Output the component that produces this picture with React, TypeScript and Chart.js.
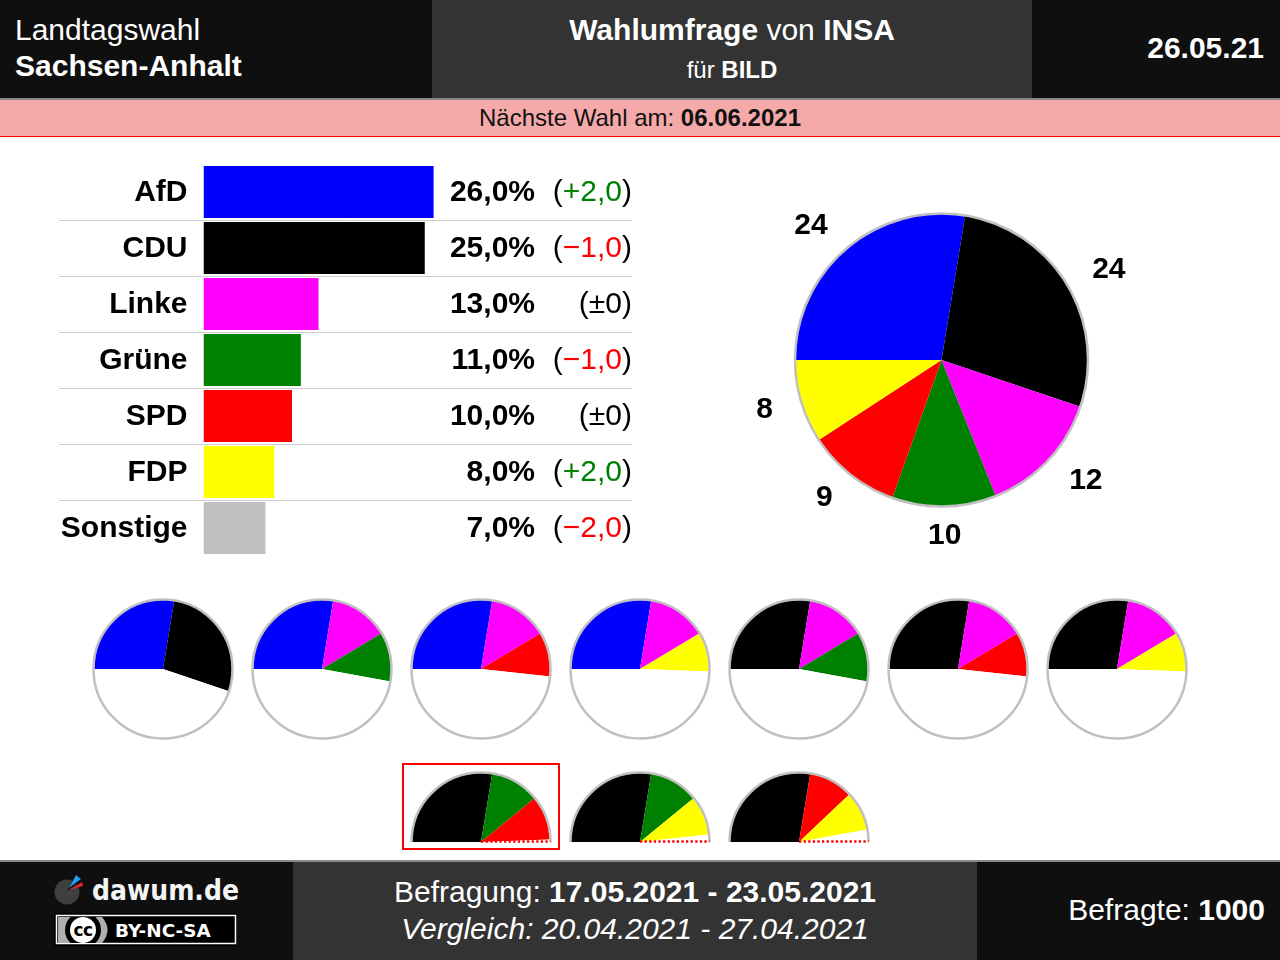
import React, { useEffect, useRef } from "react";
import { Chart, registerables } from "chart.js";

Chart.register(...registerables);

const FONT = '"Liberation Sans", Arial, sans-serif';

const parties = ["AfD", "CDU", "Linke", "Grüne", "SPD", "FDP", "Sonstige"];
const percents = [26, 25, 13, 11, 10, 8, 7];
const changes = [2, -1, 0, -1, 0, 2, -2];
const partyColors = ["#0000ff", "#000000", "#ff00ff", "#008000", "#ff0000", "#ffff00", "#c0c0c0"];

const seatParties = ["AfD", "CDU", "Linke", "Grüne", "SPD", "FDP"];
const seats = [24, 24, 12, 10, 9, 8];

const fullCoalitions = [
  ["AfD", "CDU"],
  ["AfD", "Linke", "Grüne"],
  ["AfD", "Linke", "SPD"],
  ["AfD", "Linke", "FDP"],
  ["CDU", "Linke", "Grüne"],
  ["CDU", "Linke", "SPD"],
  ["CDU", "Linke", "FDP"],
];
const halfCoalitions = [
  ["CDU", "Grüne", "SPD"],
  ["CDU", "Grüne", "FDP"],
  ["CDU", "SPD", "FDP"],
];

const totalSeats = seats.reduce((a, b) => a + b, 0);
const seatOf = (p: string) => seats[seatParties.indexOf(p)];
const colorOf = (p: string) => partyColors[parties.indexOf(p)];

function fmtChange(c: number) {
  if (c === 0) return "±0";
  return (c > 0 ? "+" : "−") + Math.abs(c).toFixed(1).replace(".", ",");
}

const outlinePlugin = {
  id: "outline",
  afterDraw(chart: any, _a: any, opts: any) {
    const arcs = chart.getDatasetMeta(0).data;
    const first = arcs[0];
    const last = arcs[arcs.length - 1];
    const ctx = chart.ctx;
    ctx.save();
    ctx.strokeStyle = "#c0c0c0";
    ctx.lineWidth = opts.width ?? 2;
    ctx.beginPath();
    ctx.arc(first.x, first.y, first.outerRadius, first.startAngle, last.endAngle);
    ctx.stroke();
    if (opts.dotted) {
      ctx.strokeStyle = "#ff0000";
      ctx.lineWidth = 2.5;
      ctx.setLineDash([2.3, 2.3]);
      ctx.beginPath();
      ctx.moveTo(first.x, first.y - 0.5);
      ctx.lineTo(first.x + first.outerRadius, first.y - 0.5);
      ctx.stroke();
    }
    ctx.restore();
  },
};

const seatLabelPlugin = {
  id: "seatLabels",
  afterDraw(chart: any) {
    const arcs = chart.getDatasetMeta(0).data;
    const ctx = chart.ctx;
    const values = chart.data.datasets[0].data;
    ctx.save();
    ctx.fillStyle = "#000";
    ctx.font = `bold 30px ${FONT}`;
    ctx.textBaseline = "middle";
    arcs.forEach((a: any, i: number) => {
      const mid = (a.startAngle + a.endAngle) / 2;
      const dist = a.outerRadius * 1.2;
      const dx = Math.cos(mid);
      ctx.textAlign = Math.abs(dx) < 0.1 ? "center" : dx > 0 ? "left" : "right";
      ctx.fillText(String(values[i]), a.x + dist * dx, a.y + dist * Math.sin(mid));
    });
    ctx.restore();
  },
};

const rowPlugin = {
  id: "rows",
  beforeDatasetsDraw(chart: any) {
    const y = chart.scales.y;
    const ctx = chart.ctx;
    ctx.save();
    ctx.strokeStyle = "#cccccc";
    ctx.lineWidth = 1;
    for (let i = 0; i < parties.length - 1; i++) {
      const py = Math.round((y.getPixelForValue(i) + y.getPixelForValue(i + 1)) / 2) + 0.5;
      ctx.beginPath();
      ctx.moveTo(0, py);
      ctx.lineTo(chart.width, py);
      ctx.stroke();
    }
    ctx.restore();
  },
  afterDatasetsDraw(chart: any) {
    const y = chart.scales.y;
    const ctx = chart.ctx;
    const right = chart.width;
    const valueRight = right - 97;
    ctx.save();
    ctx.textBaseline = "middle";
    parties.forEach((_p, i) => {
      const py = y.getPixelForValue(i) + 1;
      ctx.textAlign = "right";
      ctx.fillStyle = "#000";
      ctx.font = `bold 30px ${FONT}`;
      ctx.fillText(percents[i].toFixed(1).replace(".", ",") + "%", valueRight, py);
      ctx.font = `30px ${FONT}`;
      const c = changes[i];
      const col = c > 0 ? "#008000" : c < 0 ? "#ff0000" : "#000";
      const txt = fmtChange(c);
      let x = right;
      ctx.fillStyle = "#000";
      ctx.fillText(")", x, py);
      x -= ctx.measureText(")").width;
      ctx.fillStyle = col;
      ctx.fillText(txt, x, py);
      x -= ctx.measureText(txt).width;
      ctx.fillStyle = "#000";
      ctx.fillText("(", x, py);
    });
    ctx.restore();
  },
};

function Canvas({ config, left, top, width, height }: any) {
  const ref = useRef<HTMLCanvasElement>(null);
  useEffect(() => {
    const chart = new Chart(ref.current as HTMLCanvasElement, config());
    return () => chart.destroy();
  }, []);
  return (
    <div style={{ position: "absolute", left, top, width, height }}>
      <canvas ref={ref} width={width} height={height} style={{ display: "block", width, height }} />
    </div>
  );
}

const baseOpts = {
  animation: false as const,
  responsive: false,
  plugins: { legend: { display: false }, tooltip: { enabled: false }, title: { display: false } },
};

const barConfig = () => ({
  type: "bar" as const,
  data: {
    labels: parties,
    datasets: [
      {
        data: percents,
        backgroundColor: partyColors,
        borderWidth: 0,
        barPercentage: 52 / 56,
        categoryPercentage: 1,
      },
    ],
  },
  options: {
    ...baseOpts,
    indexAxis: "y" as const,
    layout: { padding: 0, autoPadding: false },
    scales: {
      x: { display: false, min: 0, max: 428.5 / 8.85 },
      y: {
        grid: { display: false, drawTicks: false },
        border: { display: false },
        afterFit: (s: any) => {
          s.width = 144.5;
          s.paddingTop = 0;
          s.paddingBottom = 0;
          if (s._margins) {
            s._margins.top = 0;
            s._margins.bottom = 0;
          }
        },
        ticks: {
          color: "#000",
          padding: 16,
          labelOffset: 1,
          autoSkip: false,
          font: { family: FONT, size: 30, weight: "bold" as const },
        },
      },
    },
  },
  plugins: [rowPlugin],
});

const pieConfig = () => ({
  type: "pie" as const,
  data: {
    labels: seatParties,
    datasets: [{ data: seats, backgroundColor: seatParties.map(colorOf), borderWidth: 0 }],
  },
  options: {
    ...baseOpts,
    rotation: -90,
    layout: { padding: { left: 57, right: 56, top: 53.5, bottom: 53.5 } },
    plugins: { ...baseOpts.plugins, outline: { width: 2.5 } },
  },
  plugins: [outlinePlugin, seatLabelPlugin],
});

const coalitionConfig = (members: string[], half: boolean) => () => {
  const used = members.reduce((s, p) => s + seatOf(p), 0);
  const total = half ? totalSeats / 2 : totalSeats;
  return {
    type: "pie" as const,
    data: {
      labels: [...members, "Rest"],
      datasets: [
        {
          data: [...members.map(seatOf), total - used],
          backgroundColor: [...members.map(colorOf), "#ffffff"],
          borderWidth: 0,
        },
      ],
    },
    options: {
      ...baseOpts,
      rotation: -90,
      circumference: half ? 180 : 360,
      layout: { padding: half ? { left: 2.5, right: 2.5, top: 2.5, bottom: 1 } : 2.5 },
      plugins: { ...baseOpts.plugins, outline: { width: 2.5, dotted: half } },
    },
    plugins: [outlinePlugin],
  };
};

function Txt({ x, y, w, align = "left", size = 30, color = "#fff", children }: any) {
  return (
    <div
      style={{
        position: "absolute",
        left: x,
        top: y,
        width: w,
        height: 40,
        lineHeight: "40px",
        textAlign: align,
        fontSize: size,
        color,
        whiteSpace: "nowrap",
        fontFamily: FONT,
      }}
    >
      {children}
    </div>
  );
}

function Box({ x, y, w, h, bg }: any) {
  return <div style={{ position: "absolute", left: x, top: y, width: w, height: h, background: bg }} />;
}

function Logo() {
  return (
    <svg style={{ position: "absolute", left: 50, top: 870 }} width={195} height={78} viewBox="50 870 195 78">
      <circle cx={67} cy={892} r={12.5} fill="#3f3f3f" />
      <path d="M67 891 L76 875 L83 880 Z" fill="#0f0f0f" />
      <path d="M69 888 L76 875 L81 879 Z" fill="#1e9fe8" />
      <path d="M69 890 L82 882 L83 886 Z" fill="#e8202a" />
      <text x={92} y={900} fontFamily='"DejaVu Sans"' fontWeight="bold" fontSize={27.5} textLength={147} lengthAdjust="spacingAndGlyphs" fill="#f4f4f4">
        dawum.de
      </text>
      <rect x={54} y={913} width={183} height={33} fill="#000" />
      <rect x={56.5} y={915.5} width={179} height={28} fill="#000" stroke="#fff" strokeWidth={1.5} />
      <path d="M58 917 H102 Q113 930 102 943 H58 Z" fill="#aab2ab" />
      <clipPath id="badge"><rect x={58} y={917} width={176} height={26} /></clipPath>
      <circle cx={83} cy={930} r={18} fill="#000" clipPath="url(#badge)" />
      <circle cx={83} cy={930} r={13} fill="#fff" />
      <text x={83} y={936} textAnchor="middle" fontFamily='"DejaVu Sans"' fontWeight="bold" fontSize={17} letterSpacing={-0.5} fill="#000">
        cc
      </text>
      <text x={115} y={936.5} fontFamily='"DejaVu Sans"' fontWeight="bold" fontSize={18.4} fill="#fff">
        BY-NC-SA
      </text>
    </svg>
  );
}

const topCenters = [163, 322, 481, 640, 799, 958, 1117];
const bottomCenters = [481, 640, 799];

export default function App() {
  return (
    <div style={{ position: "absolute", left: 0, top: 0, width: 1280, height: 960, background: "#fff", overflow: "hidden" }}>
      <Box x={0} y={0} w={1280} h={98} bg="#0f0f0f" />
      <Box x={432} y={0} w={600} h={98} bg="#333333" />
      <Box x={0} y={98} w={1280} h={2} bg="#888888" />
      <Box x={0} y={100} w={1280} h={36} bg="#f5a9a9" />
      <Box x={0} y={136} w={1280} h={1} bg="#ff0000" />

      <Txt x={15} y={10}>Landtagswahl</Txt>
      <Txt x={15} y={46}><b>Sachsen-Anhalt</b></Txt>
      <Txt x={432} y={10} w={600} align="center"><b>Wahlumfrage</b> von <b>INSA</b></Txt>
      <Txt x={432} y={50} w={600} align="center" size={24}>für <b>BILD</b></Txt>
      <Txt x={1032} y={28} w={232} align="right"><b>26.05.21</b></Txt>
      <Txt x={0} y={98} w={1280} align="center" size={24} color="#111">Nächste Wahl am: <b>06.06.2021</b></Txt>

      <Canvas config={barConfig} left={59} top={164} width={573} height={392} />
      <Canvas config={pieConfig} left={738} top={160} width={406} height={400} />

      {fullCoalitions.map((m, i) => (
        <Canvas key={i} config={coalitionConfig(m, false)} left={topCenters[i] - 72} top={597} width={144} height={144} />
      ))}
      {halfCoalitions.map((m, i) => (
        <Canvas key={i} config={coalitionConfig(m, true)} left={bottomCenters[i] - 72} top={770} width={144} height={73} />
      ))}
      <div style={{ position: "absolute", left: 402, top: 763, width: 154, height: 83, border: "2px solid #ff0000" }} />

      <Box x={0} y={860} w={1280} h={2} bg="#888888" />
      <Box x={0} y={862} w={1280} h={98} bg="#0f0f0f" />
      <Box x={293} y={862} w={684} h={98} bg="#333333" />
      <Logo />
      <Txt x={293} y={872} w={684} align="center">Befragung: <b>17.05.2021 - 23.05.2021</b></Txt>
      <Txt x={293} y={909} w={684} align="center"><i>Vergleich: 20.04.2021 - 27.04.2021</i></Txt>
      <Txt x={977} y={890} w={288} align="right">Befragte: <b>1000</b></Txt>
    </div>
  );
}
